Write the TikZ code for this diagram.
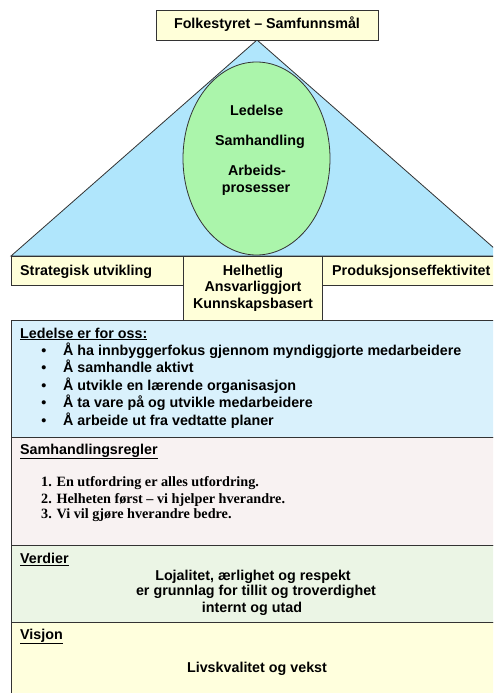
\documentclass[tikz,border=0pt]{standalone}
\usepackage{fontspec}
\setmainfont{Liberation Sans}
\newfontfamily\timesfont{Liberation Serif}
\usetikzlibrary{shapes.geometric}
\definecolor{cream}{HTML}{FFFFD9}
\definecolor{triblue}{HTML}{B0E6FC}
\definecolor{ellgreen}{HTML}{ABF5AB}
\definecolor{ledblue}{HTML}{D9F1FC}
\definecolor{samrose}{HTML}{F8F2F2}
\definecolor{verdgreen}{HTML}{EBF5E5}
\definecolor{visyellow}{HTML}{FFFFDD}
\definecolor{edge}{HTML}{333333}
\tikzset{
  box/.style={draw=edge, line width=0.8pt, anchor=north west, inner sep=0pt, outer sep=0pt},
  txt/.style={font=\fontsize{14.3}{17}\selectfont\bfseries, inner sep=0pt, anchor=base},
  ltxt/.style={txt, anchor=base west},
  rtxt/.style={font=\fontsize{14.2}{17}\timesfont\bfseries, inner sep=0pt, anchor=base west},
}
\begin{document}
\begin{tikzpicture}[x=1pt,y=-1pt]
\useasboundingbox (0,0) rectangle (493,693);
\clip (0,0) rectangle (493,693);
\fill[white] (0,0) rectangle (493,693);

% pyramid
\coordinate (apex) at (257,40);
\coordinate (bl) at (11,256);
\coordinate (br) at (503,256);
\filldraw[fill=triblue, draw=edge, line width=0.8pt] (apex) -- (bl) -- (br) -- cycle;

% top box
\node[box, fill=cream, minimum width=222pt, minimum height=30pt] (top) at (156,10) {};
\node[txt] (toptxt) at (267,29) {Folkestyret – Samfunnsmål};

% ellipse
\node[ellipse, draw=edge, line width=0.8pt, fill=ellgreen, minimum width=147pt, minimum height=193pt, inner sep=0pt] (ell) at (256.5,158.5) {};
\node[txt] (e1) at (256.7,115) {Ledelse};
\node[txt] (e2) at (260,145) {Samhandling};
\node[txt] (e3) at (257,175.5) {Arbeids-};
\node[txt] (e4) at (256,192) {prosesser};

% row boxes
\node[box, fill=cream, minimum width=172.3pt, minimum height=29.5pt] (lbox) at (11,256) {};
\node[box, fill=cream, minimum width=139.4pt, minimum height=64pt] (mbox) at (183.3,256) {};
\node[box, fill=cream, minimum width=180pt, minimum height=29.5pt] (rbox) at (322.7,256) {};
\node[ltxt] (ltxt) at (20,275.5) {Strategisk utvikling};
\node[txt] (m1) at (253,275) {Helhetlig};
\node[txt] (m2) at (253,291.5) {Ansvarliggjort};
\node[txt] (m3) at (253,308.3) {Kunnskapsbasert};
\node[ltxt] (rtxt) at (332,275.5) {Produksjonseffektivitet};

% Ledelse box
\node[box, fill=ledblue, minimum width=490pt, minimum height=117.3pt] (led) at (11,320) {};
\node[ltxt] (ledh) at (20,338) {\underline{Ledelse er for oss:}};
\foreach \i/\t in {0/{Å ha innbyggerfokus gjennom myndiggjorte medarbeidere},
                   1/{Å samhandle aktivt},
                   2/{Å utvikle en lærende organisasjon},
                   3/{Å ta vare på og utvikle medarbeidere},
                   4/{Å arbeide ut fra vedtatte planer}}{
  \node[txt] (b\i) at (44,355+17.5*\i) {\textbullet};
  \node[ltxt] (l\i) at (63,355+17.5*\i) {\t};
}

% Samhandlingsregler box
\node[box, fill=samrose, minimum width=490pt, minimum height=108.4pt] (sam) at (11,437.3) {};
\node[ltxt] (samh) at (20,454) {\underline{Samhandlingsregler}};
\node[rtxt] (s1) at (41,486.7) {1. En utfordring er alles utfordring.};
\node[rtxt] (s2) at (41,503) {2. Helheten først – vi hjelper hverandre.};
\node[rtxt] (s3) at (41,518.7) {3. Vi vil gjøre hverandre bedre.};

% Verdier box
\node[box, fill=verdgreen, minimum width=490pt, minimum height=76.6pt] (ver) at (11,545.7) {};
\node[ltxt] (verh) at (20,563.3) {\underline{Verdier}};
\node[txt] (v1) at (253,580) {Lojalitet, ærlighet og respekt};
\node[txt] (v2) at (256,595.7) {er grunnlag for tillit og troverdighet};
\node[txt] (v3) at (252,612) {internt og utad};

% Visjon box
\node[box, fill=visyellow, minimum width=490pt, minimum height=90pt] (vis) at (11,622.3) {};
\node[ltxt] (vish) at (20,639.3) {\underline{Visjon}};
\node[txt] (vis1) at (257,672.7) {Livskvalitet og vekst};
\end{tikzpicture}
\end{document}
